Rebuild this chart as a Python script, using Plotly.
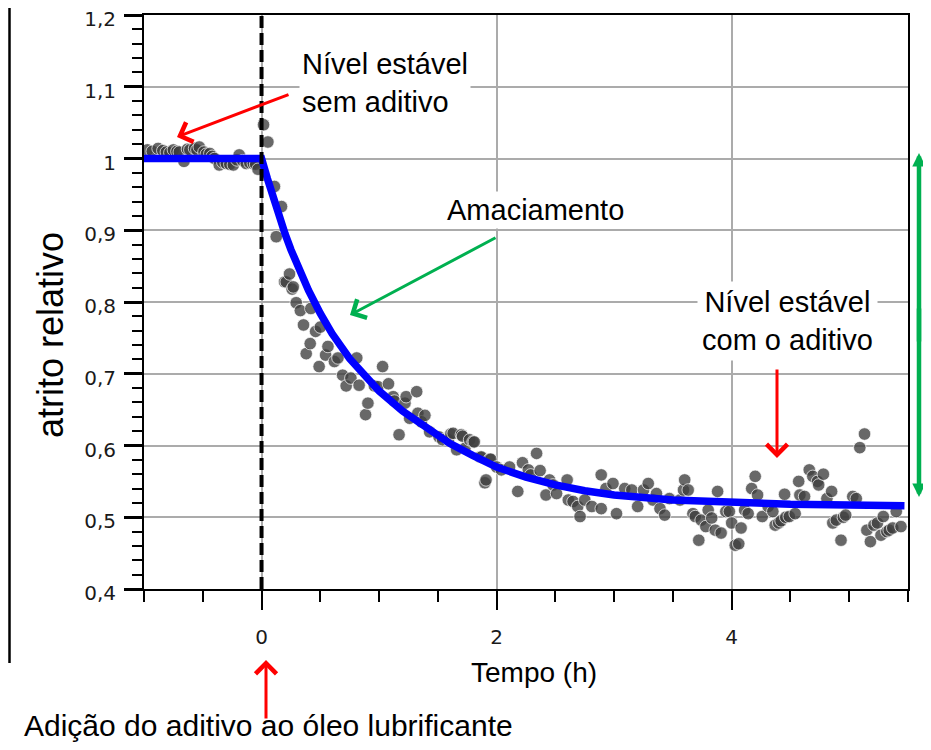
import plotly.graph_objects as go

# measured points (tempo em horas, atrito relativo)
tempo_pts = [
    -0.97, -0.93, -0.88, -0.84, -0.81, -0.78, -0.75, -0.72, -0.70, -0.66, -0.63,
    -0.61, -0.57, -0.55, -0.53, -0.49, -0.47, -0.44, -0.42, -0.40, -0.36, -0.33,
    -0.30, -0.27, -0.24, -0.21, -0.19, -0.16, -0.13, -0.10, -0.07, -0.05, -0.03,
    0.017, 0.054, 0.11, 0.125, 0.17, 0.196, 0.21, 0.238, 0.26, 0.27, 0.295, 0.33,
    0.357, 0.38, 0.414, 0.42, 0.46, 0.49, 0.50, 0.545, 0.565, 0.62, 0.65, 0.69,
    0.72, 0.76, 0.81, 0.83, 0.885, 0.905, 0.96, 0.99, 1.03, 1.08, 1.12, 1.13,
    1.17, 1.22, 1.23, 1.26, 1.32, 1.33, 1.36, 1.39, 1.43, 1.51, 1.54, 1.59, 1.61,
    1.63, 1.66, 1.70, 1.71, 1.73, 1.77, 1.80, 1.81, 1.86, 1.87, 1.90, 1.91, 1.94,
    1.95, 2.00, 2.04, 2.11, 2.18, 2.22, 2.27, 2.29, 2.34, 2.37, 2.42, 2.45, 2.48,
    2.51, 2.60, 2.61, 2.65, 2.69, 2.71, 2.75, 2.81, 2.89, 2.89, 2.93, 2.99, 3.02,
    3.09, 3.15, 3.20, 3.25, 3.29, 3.33, 3.36, 3.39, 3.43, 3.47, 3.56, 3.59, 3.60,
    3.63, 3.67, 3.69, 3.72, 3.74, 3.78, 3.80, 3.83, 3.86, 3.88, 3.91, 3.95, 3.98,
    4.00, 4.03, 4.06, 4.08, 4.11, 4.14, 4.17, 4.20, 4.22, 4.26, 4.31, 4.35, 4.37,
    4.40, 4.42, 4.45, 4.46, 4.49, 4.54, 4.57, 4.58, 4.62, 4.66, 4.69, 4.73, 4.74,
    4.78, 4.81, 4.85, 4.86, 4.89, 4.93, 4.95, 4.97, 5.03, 5.06, 5.09, 5.13, 5.15,
    5.18, 5.21, 5.24, 5.27, 5.29, 5.32, 5.34, 5.37, 5.40, 5.44,
]
atrito_pts = [
    1.012, 1.010, 1.014, 1.011, 1.009, 1.008, 1.012, 1.010, 1.009, 0.996, 1.013,
    1.012, 1.014, 1.012, 1.016, 1.009, 1.006, 1.007, 1.003, 1.000, 0.991, 0.995,
    0.993, 0.992, 0.991, 0.998, 1.005, 0.997, 0.993, 0.994, 0.993, 0.992, 0.985,
    1.047, 1.023, 0.961, 0.891, 0.933, 0.828, 0.828, 0.839, 0.818, 0.821, 0.799, 0.788,
    0.768, 0.728, 0.742, 0.791, 0.759, 0.710, 0.765, 0.726, 0.738, 0.717, 0.722, 0.698,
    0.683, 0.694, 0.722, 0.684, 0.643, 0.659, 0.683, 0.682, 0.710, 0.686, 0.668, 0.662,
    0.615, 0.659, 0.668, 0.638, 0.675, 0.645, 0.633, 0.642, 0.619, 0.612, 0.608, 0.608, 0.616,
    0.617, 0.594, 0.615, 0.613, 0.596, 0.608, 0.605, 0.605, 0.584, 0.584, 0.548, 0.552, 0.581,
    0.581, 0.570, 0.566, 0.570, 0.536, 0.576, 0.566, 0.559, 0.589, 0.565, 0.531, 0.552, 0.545,
    0.533, 0.552, 0.524, 0.522, 0.515, 0.501, 0.524, 0.515, 0.559, 0.512, 0.540, 0.547, 0.505,
    0.540, 0.538, 0.515, 0.538, 0.547, 0.524, 0.533, 0.512, 0.503, 0.526, 0.524, 0.538, 0.552,
    0.538, 0.505, 0.501, 0.468, 0.496, 0.487, 0.510, 0.499, 0.482, 0.536, 0.478, 0.508, 0.508,
    0.492, 0.461, 0.463, 0.485, 0.510, 0.505, 0.540, 0.557, 0.531, 0.501, 0.515, 0.508, 0.489,
    0.492, 0.495, 0.532, 0.500, 0.501, 0.505, 0.550, 0.531, 0.529, 0.566, 0.557, 0.550, 0.545,
    0.560, 0.526, 0.536, 0.492, 0.496, 0.468, 0.500, 0.503, 0.529, 0.526, 0.597, 0.616, 0.482,
    0.466, 0.489, 0.492, 0.475, 0.501, 0.480, 0.482, 0.485, 0.508, 0.487,
]

# fitted curve
tempo_ajuste = [-1.0, 0.0, 0.05, 0.1, 0.15, 0.2, 0.25, 0.3, 0.35, 0.4, 0.5, 0.6, 0.75,
                0.9, 1.0, 1.2, 1.4, 1.6, 1.8, 2.0, 2.25, 2.5, 2.75, 3.0, 3.5, 4.0,
                4.5, 5.0, 5.47]
atrito_ajuste = [1.0, 1.0, 0.972, 0.945, 0.92, 0.895, 0.873, 0.853, 0.834, 0.816, 0.784,
                 0.756, 0.721, 0.692, 0.676, 0.648, 0.624, 0.603, 0.586, 0.570, 0.556,
                 0.545, 0.537, 0.531, 0.524, 0.520, 0.518, 0.517, 0.516]

t_adicao = 0

# the page has an 8px body margin on every side: keep the figure inside 931x750
OFF = 8
W, H = 931 - 2 * OFF, 750 - 2 * OFF
# plot area on the page: left 144, right 908, top 15, bottom 589
L, R, T, B = 144, 908, 15, 589


def px(x):
    return (x - L) / (R - L)


def py(y):
    return (B - y) / (B - T)


fig = go.Figure()
fig.add_trace(go.Scatter(x=tempo_pts, y=atrito_pts, mode='markers',
                         marker=dict(size=12.5, color='rgba(62,62,62,0.78)',
                                     line=dict(color='rgba(255,255,255,0.7)', width=1)),
                         showlegend=False))
fig.add_trace(go.Scatter(x=tempo_ajuste, y=atrito_ajuste, mode='lines',
                         line=dict(color='#0000ff', width=7.5), showlegend=False))

fig.add_shape(type='line', xref='x', yref='paper', x0=t_adicao, x1=t_adicao, y0=0, y1=1,
              line=dict(color='black', width=4, dash='12px,5px'))

# stray frame line from the neighbouring panel at the left edge
fig.add_shape(type='line', xref='paper', yref='paper', x0=px(9.5), x1=px(9.5),
              y0=py(0), y1=py(663), line=dict(color='black', width=2.5))

txt = dict(family='Liberation Sans, Arial', size=29, color='black')


def label(x, y, text, **kw):
    args = dict(x=px(x), y=py(y), xref='paper', yref='paper', text=text,
                showarrow=False, xanchor='center', yanchor='middle', font=txt)
    args.update(kw)
    fig.add_annotation(**args)


label(299, 83, 'Nível estável<br>sem aditivo', xanchor='left', align='left',
      bgcolor='white', borderpad=2)
label(535, 210, 'Amaciamento', bgcolor='white', borderpad=2)
label(787, 321, 'Nível estável<br>com o aditivo', bgcolor='white', borderpad=4)
label(534, 672, 'Tempo (h)', font=dict(txt, size=28))
label(22, 725, 'Adição do aditivo ao óleo lubrificante', xanchor='left',
      font=dict(txt, size=30))
label(50, 335, 'atrito relativo', textangle=-90, font=dict(txt, size=36))

# arrows: head x, head y, tail offset x, tail offset y, colour, width, head, size
arrows = [
    (177, 137, 113, -43, 'red', 3, 4, 1.35),
    (350, 315, 147, -78, '#00b050', 3, 4, 1.35),
    (777, 458, 0, -90, 'red', 3, 4, 1.35),
    (266, 660, 0, 60, 'red', 3, 4, 1.35),
    (919, 153, 0, 190, '#00b050', 4.5, 2, 0.6),
    (919, 497, 0, -190, '#00b050', 4.5, 2, 0.6),
]
for hx, hy, ax, ay, col, w, head, size in arrows:
    fig.add_annotation(x=px(hx), y=py(hy), xref='paper', yref='paper', ax=ax, ay=ay,
                       text='', showarrow=True, arrowcolor=col, arrowwidth=w,
                       arrowhead=head, arrowsize=size)

tick_font = dict(family='DejaVu Sans', size=20, color='#1a1a1a')
fig.update_xaxes(range=[-1, 5.5], dtick=2, tick0=0, ticks='outside', ticklen=19,
                 tickwidth=2, tickcolor='black', showline=True, linecolor='black',
                 linewidth=2, mirror=True, showgrid=True, gridcolor='#ababab', gridwidth=2,
                 zeroline=False, tickfont=tick_font, automargin=False,
                 ticklabelstandoff=10, ticklabeloverflow='allow',
                 minor=dict(dtick=0.5, tick0=0, ticks='outside', ticklen=11,
                            tickwidth=2, tickcolor='black', showgrid=False))
fig.update_yaxes(range=[0.4, 1.2], dtick=0.1, tick0=0.4, ticks='outside', ticklen=18,
                 tickwidth=2.5, tickcolor='black', showline=True, linecolor='black',
                 linewidth=2, mirror=True, showgrid=True, gridcolor='#ababab', gridwidth=2,
                 zeroline=False, tickfont=tick_font, automargin=False,
                 ticklabeloverflow='allow', ticklabelshift=4, ticklabelstandoff=4,
                 minor=dict(dtick=0.02, tick0=0.4, ticks='outside', ticklen=10,
                            tickwidth=2, tickcolor='black', showgrid=False))
fig.update_layout(width=W, height=H,
                  margin=dict(l=L - OFF, r=W - (R - OFF), t=T - OFF, b=H - (B - OFF)),
                  plot_bgcolor='white', paper_bgcolor='white', separators=',.',
                  showlegend=False)
fig.write_html("out.html")
